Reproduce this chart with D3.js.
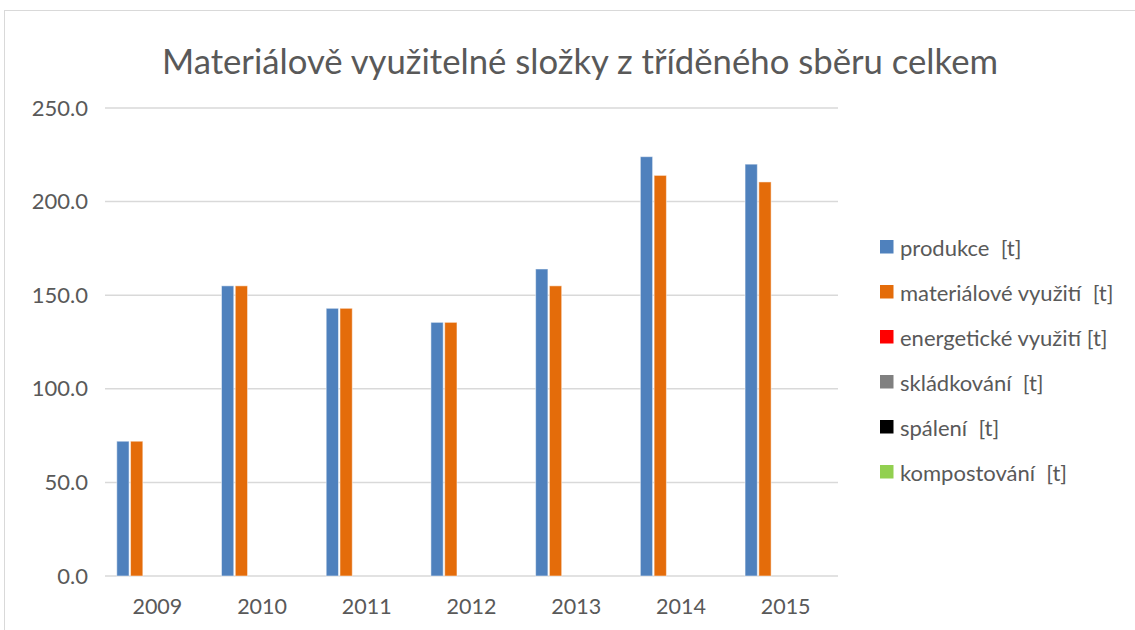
<!DOCTYPE html>
<html>
<head>
<meta charset="utf-8">
<script src="https://cdn.jsdelivr.net/npm/d3@7"></script>
<style>
  body { margin: 0; background: #fff; }
  svg { font-family: Lato, "Open Sans", sans-serif; }
</style>
</head>
<body>
<div id="graf"></div>
<script>
// Data
roky = ['2009', '2010', '2011', '2012', '2013', '2014', '2015']
produkce = [72, 155, 143, 135.5, 164, 224, 220]
materialove = [72, 155, 143, 135.5, 155, 214, 210.5]
energeticke = [0, 0, 0, 0, 0, 0, 0]
skladkovani = [0, 0, 0, 0, 0, 0, 0]
spaleni = [0, 0, 0, 0, 0, 0, 0]
kompostovani = [0, 0, 0, 0, 0, 0, 0]
nazvySerii = ['produkce  [t]', 'materiálové využití  [t]', 'energetické využití [t]',
              'skládkování  [t]', 'spálení  [t]', 'kompostování  [t]']
barvy = ['#4F81BD', '#E46C0A', '#FF0000', '#808080', '#000000', '#92D050']
yTicks = [0, 50, 100, 150, 200, 250]

serie = [produkce, materialove, energeticke, skladkovani, spaleni, kompostovani]

ancho_total = 1135
alto_total = 630
margen = { superior: 108, izquierdo: 105, derecho: 297, inferior: 54 }
ancho = ancho_total - margen.izquierdo - margen.derecho
alto = alto_total - margen.superior - margen.inferior

svg = d3.select('#graf').append('svg')
  .attr('width', ancho_total)
  .attr('height', alto_total)

// chart border
svg.append('rect')
  .attr('x', 4.5).attr('y', 10.5)
  .attr('width', ancho_total + 10).attr('height', alto_total + 10)
  .attr('fill', 'none').attr('stroke', '#d9d9d9').attr('stroke-width', 1)

svg.append('text')
  .attr('x', 580).attr('y', 74)
  .attr('text-anchor', 'middle')
  .attr('font-size', '34.7px')
  .attr('fill', '#595959')
  .text('Materiálově využitelné složky z tříděného sběru celkem')

g = svg.append('g')
  .attr('transform', `translate(${margen.izquierdo}, ${margen.superior})`)

y = d3.scaleLinear().domain([0, 250]).range([alto, 0])
x = d3.scaleBand().domain(roky).range([0, ancho])
xs = d3.scaleBand().domain(d3.range(serie.length))
  .range([0, x.bandwidth()]).paddingOuter(0.8).paddingInner(0)

// gridlines
g.selectAll('.grid').data(yTicks).enter().append('line')
  .attr('x1', 0).attr('x2', ancho)
  .attr('y1', d => y(d)).attr('y2', d => y(d))
  .attr('stroke', '#d9d9d9').attr('stroke-width', 1.5)

yAxis = d3.axisLeft(y).tickValues(yTicks).tickFormat(d3.format('.1f')).tickSize(0).tickPadding(17)
g.append('g').call(yAxis)
  .call(a => a.select('.domain').remove())
  .selectAll('text').attr('font-size', '22px').attr('fill', '#595959').attr('font-family', 'Lato, sans-serif')

xAxis = d3.axisBottom(x).tickSize(0).tickPadding(23)
g.append('g').attr('transform', `translate(0, ${alto})`).call(xAxis)
  .call(a => a.select('.domain').remove())
  .selectAll('text').attr('font-size', '21.5px').attr('fill', '#595959').attr('font-family', 'Lato, sans-serif')

// bars
serie.forEach((vals, i) => {
  g.selectAll('.s' + i).data(vals.map((v, j) => ({ rok: roky[j], v: v })).filter(d => d.v > 0))
    .enter().append('rect')
    .attr('x', d => x(d.rok) + xs(i) + 0.75)
    .attr('width', xs.bandwidth() - 1.5)
    .attr('y', d => y(d.v))
    .attr('height', d => y(0) - y(d.v))
    .attr('fill', barvy[i])
    .attr('stroke', '#fff').attr('stroke-opacity', 0.5).attr('stroke-width', 1)
})

// legend
leg = svg.append('g').attr('transform', 'translate(880, 240)')
polozky = leg.selectAll('g').data(nazvySerii).enter().append('g')
  .attr('transform', (d, i) => `translate(0, ${i * 45})`)
polozky.append('rect').attr('width', 13.5).attr('height', 13.5)
  .attr('fill', (d, i) => barvy[i])
polozky.append('text').attr('x', 20).attr('y', 15.5)
  .attr('font-size', '22px').attr('fill', '#595959')
  .attr('xml:space', 'preserve').style('white-space', 'pre')
  .text(d => d)
</script>
</body>
</html>
